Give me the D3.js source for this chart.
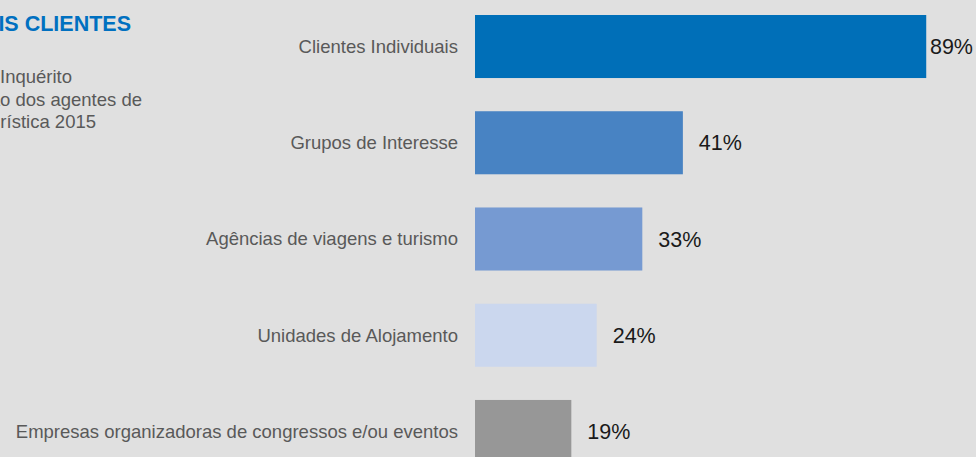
<!DOCTYPE html>
<html>
<head>
<meta charset="utf-8">
<script src="https://cdn.jsdelivr.net/npm/d3@7"></script>
<style>
  html, body { margin: 0; padding: 0; background: #e0e0e0; overflow: hidden; }
  svg { display: block; font-family: "Liberation Sans", Arial, sans-serif; }
</style>
</head>
<body>
<svg id="chart" width="976" height="457"></svg>
<script>
// data
var categories = [
    'Clientes Individuais'
    , 'Grupos de Interesse'
    , 'Agências de viagens e turismo'
    , 'Unidades de Alojamento'
    , 'Empresas organizadoras de congressos e/ou eventos'
];
var values = [89, 41, 33, 24, 19];
var barColors = ['#006fb8', '#4883c3', '#769ad2', '#cbd7ee', '#979797'];
var titleText = 'PRINCIPAIS CLIENTES';
var noteLines = ['Fonte: Inquérito', 'à caracterização dos agentes de', 'animação turística 2015'];

(function() {
    'use strict';

    var W = 976, H = 457;
    var svg = d3.select('#chart');

    var x = d3.scaleLinear()
        .domain([0, 100])
        .range([475, 982]);

    var y = d3.scaleBand()
        .domain(categories)
        .range([15, 463])
        .paddingInner(0.345)
        .paddingOuter(0);

    // title + note, cut off at the left edge like the source
    svg.append('text')
        .attr('x', 131)
        .attr('y', 31)
        .attr('text-anchor', 'end')
        .style('font', 'bold 21.5px "Liberation Sans", Arial, sans-serif')
        .style('fill', '#0070c0')
        .text(titleText);

    var noteRight = [72, 142, 96];
    svg.selectAll('text.note')
        .data(noteLines)
        .enter()
        .append('text')
        .attr('class', 'note')
        .attr('x', function(d, i) { return noteRight[i] })
        .attr('y', function(d, i) { return 83 + i * 22.5 })
        .attr('text-anchor', 'end')
        .style('font-size', '18.5px')
        .style('fill', '#595959')
        .text(function(d) { return d });

    var rows = categories.map(function(c, i) {
        return { cat: c, val: values[i], color: barColors[i] }
    });

    svg.selectAll('rect.bar')
        .data(rows)
        .enter()
        .append('rect')
        .attr('class', 'bar')
        .attr('x', x(0))
        .attr('y', function(d) { return y(d.cat) })
        .attr('width', function(d) { return x(d.val) - x(0) })
        .attr('height', y.bandwidth())
        .style('fill', function(d) { return d.color });

    svg.selectAll('text.cat')
        .data(rows)
        .enter()
        .append('text')
        .attr('class', 'cat')
        .attr('x', x(0) - 17)
        .attr('y', function(d) { return y(d.cat) + y.bandwidth() / 2 })
        .attr('dy', '0.35em')
        .attr('text-anchor', 'end')
        .style('font-size', '18.5px')
        .style('fill', '#595959')
        .text(function(d) { return d.cat });

    var vals = svg.selectAll('text.val')
        .data(rows)
        .enter()
        .append('text')
        .attr('class', 'val')
        .attr('y', function(d) { return y(d.cat) + y.bandwidth() / 2 })
        .attr('dy', '0.35em')
        .style('font-size', '21.5px')
        .style('fill', '#1a1a1a')
        .text(function(d) { return d.val + '%' });

    // keep the label inside the frame when the bar runs long
    vals.attr('x', function(d) {
        var w = this.getComputedTextLength();
        return Math.min(x(d.val) + 16, W - 3 - w)
    });
})();
</script>
</body>
</html>
